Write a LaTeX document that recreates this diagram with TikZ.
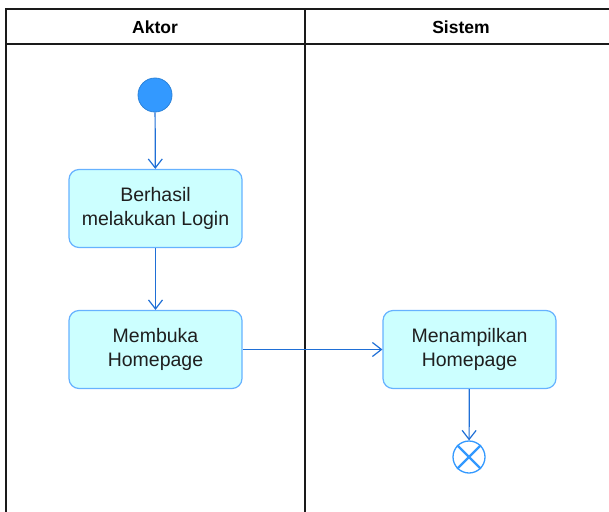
\documentclass[tikz,border=0pt]{standalone}
\usepackage{fontspec}
\setmainfont{Liberation Sans}
\usetikzlibrary{arrows.meta}
\definecolor{boxfill}{HTML}{CCFFFF}
\definecolor{boxline}{HTML}{66B2FF}
\definecolor{arrowc}{HTML}{1F6FD6}
\definecolor{startc}{HTML}{3399FF}
\definecolor{framec}{HTML}{1A1A1A}
\tikzset{
  activity/.style={draw=boxline, fill=boxfill, line width=1.2pt, rounded corners=10pt,
    minimum width=173pt, minimum height=78pt, align=center,
    font=\fontsize{19.5}{24}\selectfont, text=black!88},
  flow/.style={draw=arrowc, line width=1.2pt, -{Straight Barb[length=9pt,width=14pt,line width=1.2pt]}},
  lane/.style={draw=framec, line width=1.4pt},
  header/.style={font=\fontsize{17.5}{20}\selectfont\bfseries}
}
\begin{document}
\begin{tikzpicture}[x=1pt,y=-1pt]
\useasboundingbox (0,0) rectangle (609,511);
% swimlane frame
\draw[lane] (6,520) -- (6,9) -- (620,9);
\draw[lane] (6,44) -- (620,44);
\draw[lane] (305,9) -- (305,520);
\node[header] (haktor) at (155,27.5) {Aktor};
\node[header] (hsistem) at (461,27.5) {Sistem};
% nodes
\node[circle, fill=startc, draw=startc!85!black, line width=0.8pt, minimum size=34pt, inner sep=0pt] (start) at (155,95) {};
\node[activity] (login) at (155.5,208.5) {Berhasil\\melakukan Login};
\node[activity] (membuka) at (155.5,349.5) {Membuka\\Homepage};
\node[activity] (tampil) at (469.5,349.5) {Menampilkan\\Homepage};
\node[circle, draw=startc, line width=1.3pt, minimum size=32pt, inner sep=0pt] (end) at (469,457) {};
\draw[startc, line width=2.2pt] (end.north east) -- (end.south west);
\draw[startc, line width=2.2pt] (end.north west) -- (end.south east);
% flows
\draw[flow] (start) -- (login);
\draw[flow] (login) -- (membuka);
\draw[flow] (membuka) -- (tampil);
\draw[flow] (tampil) -- (end);
\end{tikzpicture}
\end{document}
